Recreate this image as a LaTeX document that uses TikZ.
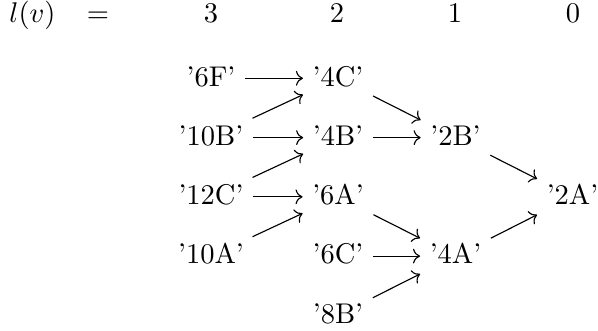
\documentclass[tikz,border=0pt]{standalone}
\usetikzlibrary{cd}
\begin{document}
\begin{tikzpicture}[x=0.35088pt, y=-0.35088pt,
  cell/.style={anchor=base, inner xsep=3.2pt, inner ysep=0pt, text height=9.3pt, text depth=3.9pt},
  hd/.style={anchor=base, inner sep=0pt},
  arr/.style={->, >={cm to}, line width=0.4pt}]
\useasboundingbox (0,0) rectangle (598,330);
% header
\node[hd] (lv) at (32.5,22.5) {$l(v)$};
\node[hd] (eq) at (98,22.5) {$=$};
\node[hd] (h3) at (211,22.5) {$3$};
\node[hd] (h2) at (337,22.5) {$2$};
\node[hd] (h1) at (455,22.5) {$1$};
\node[hd] (h0) at (573,22.5) {$0$};
% cells
\node[cell] (n6F)  at (211,86)  {'6F'};
\node[cell] (n4C)  at (338,86)  {'4C'};
\node[cell] (n10B) at (211,145.3) {'10B'};
\node[cell] (n4B)  at (338,145.3) {'4B'};
\node[cell] (n2B)  at (455.5,145.3) {'2B'};
\node[cell] (n12C) at (211,204.5) {'12C'};
\node[cell] (n6A)  at (338,204.5) {'6A'};
\node[cell] (n2A)  at (572.5,204.5) {'2A'};
\node[cell] (n10A) at (211,263.8) {'10A'};
\node[cell] (n6C)  at (338,263.8) {'6C'};
\node[cell] (n4A)  at (455.5,263.8) {'4A'};
\node[cell] (n8B)  at (338,323) {'8B'};
% arrows
\draw[arr] (n6F) -- (n4C);
\draw[arr] (n10B) -- (n4C);
\draw[arr] (n10B) -- (n4B);
\draw[arr] (n12C) -- (n4B);
\draw[arr] (n12C) -- (n6A);
\draw[arr] (n10A) -- (n6A);
\draw[arr] (n4C) -- (n2B);
\draw[arr] (n4B) -- (n2B);
\draw[arr] (n6A) -- (n4A);
\draw[arr] (n6C) -- (n4A);
\draw[arr] (n8B) -- (n4A);
\draw[arr] (n2B) -- (n2A);
\draw[arr] (n4A) -- (n2A);
\end{tikzpicture}
\end{document}
